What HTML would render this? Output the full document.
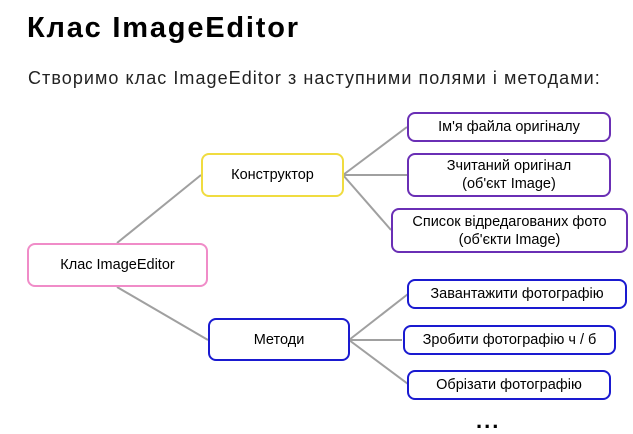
<!DOCTYPE html>
<html><head><meta charset="utf-8"><style>
body{margin:0;width:633px;height:434px;background:#fff;position:relative;overflow:hidden;font-family:"Liberation Sans",sans-serif}
.t{position:absolute;left:27px;top:12px;font-size:29px;font-weight:bold;color:#000;letter-spacing:1.8px}
.s{position:absolute;left:28px;top:68px;font-size:18px;color:#222;letter-spacing:1.05px}
.b{position:absolute;box-sizing:border-box;border:2px solid;border-radius:8px;display:flex;align-items:center;justify-content:center;text-align:center;font-size:14.5px;line-height:18px;color:#000;background:#fff}
.p{border-color:#6a2fb5}.u{border-color:#1a1ad0}
</style></head><body>
<div class="t">Клас ImageEditor</div>
<div class="s">Створимо клас ImageEditor з наступними полями і методами:</div>
<svg width="633" height="434" style="position:absolute;left:0;top:0">
<g stroke="#a0a0a0" stroke-width="2" fill="none">
<line x1="117" y1="243" x2="201" y2="175"/>
<line x1="117" y1="287" x2="208" y2="340"/>
<line x1="343" y1="175" x2="407" y2="127"/>
<line x1="343" y1="175" x2="407" y2="175"/>
<line x1="343" y1="175" x2="391" y2="230"/>
<line x1="349" y1="340" x2="408" y2="294"/>
<line x1="349" y1="340" x2="402" y2="340"/>
<line x1="349" y1="340" x2="408" y2="384"/>
</g></svg>
<div class="b" style="left:27px;top:243px;width:181px;height:44px;border-color:#f08cc8">Клас ImageEditor</div>
<div class="b" style="left:201px;top:153px;width:143px;height:44px;border-color:#f0dc40">Конструктор</div>
<div class="b u" style="left:208px;top:318px;width:142px;height:43px">Методи</div>
<div class="b p" style="left:407px;top:112px;width:204px;height:30px">Ім'я файла оригіналу</div>
<div class="b p" style="left:407px;top:153px;width:204px;height:44px">Зчитаний оригінал<br>(об'єкт Image)</div>
<div class="b p" style="left:391px;top:208px;width:237px;height:45px">Список відредагованих фото<br>(об'єкти Image)</div>
<div class="b u" style="left:407px;top:279px;width:220px;height:30px">Завантажити фотографію</div>
<div class="b u" style="left:403px;top:325px;width:213px;height:30px">Зробити фотографію ч / б</div>
<div class="b u" style="left:407px;top:370px;width:204px;height:30px">Обрізати фотографію</div>
<div style="position:absolute;left:476px;top:408px;font-size:22px;font-weight:bold;letter-spacing:2px">...</div>
</body></html>
